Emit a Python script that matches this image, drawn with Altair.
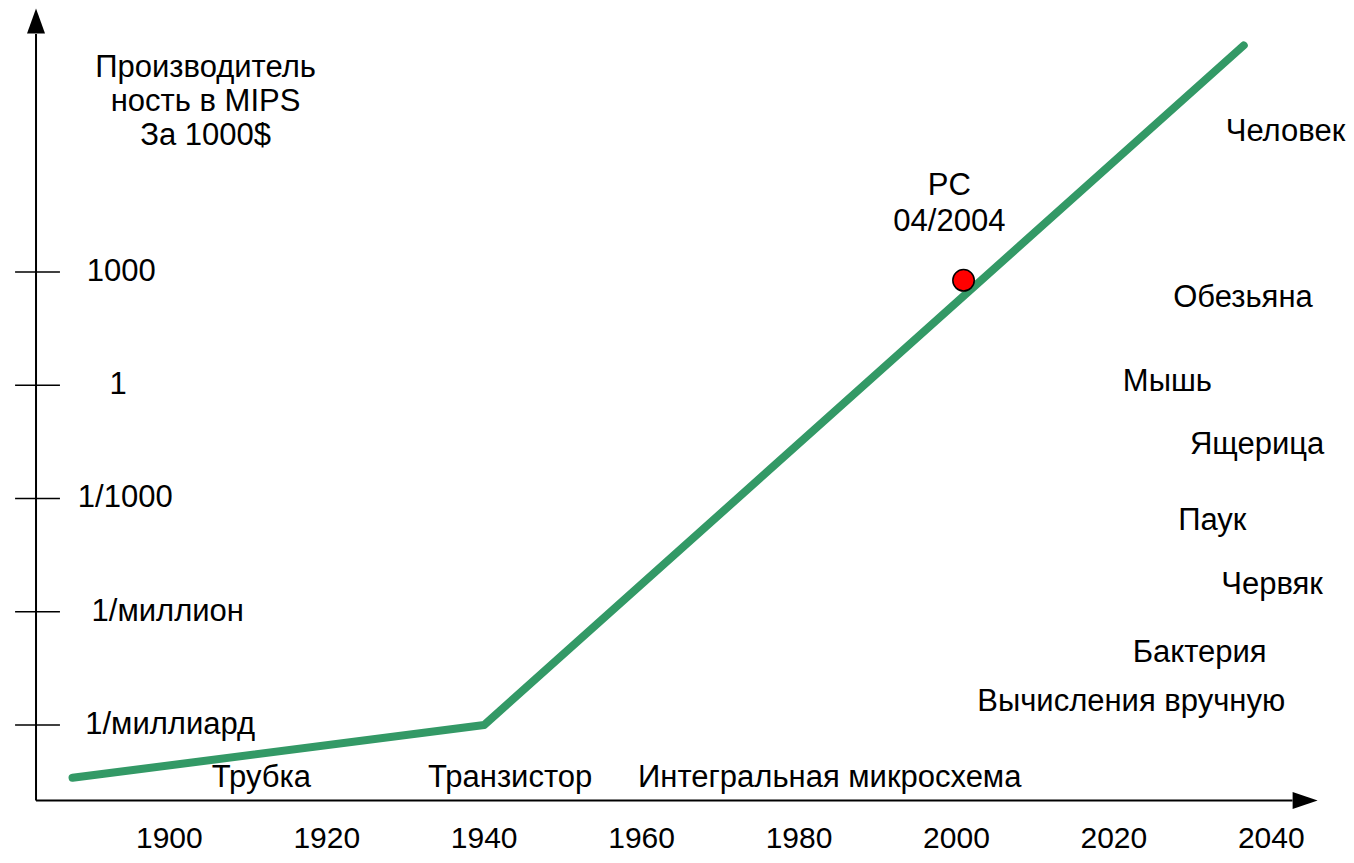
import altair as alt
import pandas as pd

# ---------------- data ----------------
# performance curve (year, MIPS per $1000)
curve_year = [1887.7, 1940.0, 2036.5]
curve_mips = [4e-11, 1e-9, 1e9]

# PC point
pc_year = [2000.9]
pc_mips = [600]
pc_label = ["PC\n04/2004"]
pc_label_year = [1999.1]
pc_label_mips = [1.9e5]

# y tick levels and labels
ytick_vals = [1e3, 1, 1e-3, 1e-6, 1e-9]
ytick_text = ["1000", "1", "1/1000", "1/миллион", "1/миллиард"]
ytick_label_year = [1893.9, 1893.5, 1894.4, 1899.8, 1900.1]

# x tick labels
xtick_years = [1900, 1920, 1940, 1960, 1980, 2000, 2020, 2040]

# technology labels (bottom)
tech_text = ["Трубка", "Транзистор", "Интегральная микросхема"]
tech_year = [1911.7, 1943.3, 1983.9]
tech_mips = [4e-11, 4e-11, 4e-11]

# organisms (right)
org_text = ["Человек", "Обезьяна", "Мышь", "Ящерица", "Паук", "Червяк",
            "Бактерия", "Вычисления вручную"]
org_year = [2041.8, 2036.4, 2026.8, 2038.2, 2032.5, 2040.1, 2030.9, 2022.2]
org_mips = [5e6, 200, 1.2, 0.026, 2.5e-4, 5e-6, 8e-8, 4e-9]

# y title
ytitle_text = ["Производитель\nность в MIPS\nЗа 1000$"]
ytitle_year = [1904.6]
ytitle_mips = [2.5e8]

# axes geometry (data space)
axis_year = 1883.06
axis_mips = 1e-11
yaxis_top_mips = 2e9
xaxis_end_year = 2042.7
arrow_up_mips = 4.4e9
arrow_right_year = 2044.3
tick_from_year, tick_to_year = 1880.4, 1886.1

# ---------------- scales ----------------
W, H = 1338, 846
PX_PER_DEC = 37.757
L_TOP = 9.99
L_BOT = L_TOP - H / PX_PER_DEC
xscale = alt.Scale(domain=[1879.5, 1879.5 + W / 7.871], nice=False, zero=False)
yscale = alt.Scale(type="log", domain=[10 ** L_BOT, 10 ** L_TOP], nice=False)
year_label_mips = 10 ** L_BOT

FONT = "Liberation Sans, Arial, sans-serif"
NARROW = "Liberation Sans Narrow, Arial Narrow, Liberation Sans, Arial, sans-serif"
FS = 31
FS_N = 30

def X(f):
    return alt.X(f, type="quantitative", scale=xscale, axis=None)

def Y(f):
    return alt.Y(f, type="quantitative", scale=yscale, axis=None)

# axes lines
yaxis_df = pd.DataFrame({"x": [axis_year], "y": [axis_mips], "y2": [yaxis_top_mips]})
yaxis = alt.Chart(yaxis_df).mark_rule(color="black", strokeWidth=2).encode(
    x=X("x"), y=Y("y"), y2="y2")
xaxis_df = pd.DataFrame({"x": [axis_year], "x2": [xaxis_end_year], "y": [axis_mips]})
xaxis = alt.Chart(xaxis_df).mark_rule(color="black", strokeWidth=2).encode(
    x=X("x"), x2="x2", y=Y("y"))

up_df = pd.DataFrame({"x": [axis_year], "y": [arrow_up_mips]})
arrow_up = alt.Chart(up_df).mark_point(
    shape="M0,-1L0.72,1L-0.72,1Z", filled=True, color="black", size=625, opacity=1
).encode(x=X("x"), y=Y("y"))
right_df = pd.DataFrame({"x": [arrow_right_year], "y": [axis_mips]})
arrow_right = alt.Chart(right_df).mark_point(
    shape="M1,0L-1,0.68L-1,-0.68Z", filled=True, color="black", size=625, opacity=1
).encode(x=X("x"), y=Y("y"))

ticks_df = pd.DataFrame({"x": tick_from_year, "x2": tick_to_year, "y": ytick_vals})
ticks = alt.Chart(ticks_df).mark_rule(color="black", strokeWidth=1.5).encode(
    x=X("x"), x2="x2", y=Y("y"))

ylab_df = pd.DataFrame({"x": ytick_label_year, "y": ytick_vals, "t": ytick_text})
ylabels = alt.Chart(ylab_df).mark_text(
    font=FONT, fontSize=FS, align="center", baseline="middle", color="black"
).encode(x=X("x"), y=Y("y"), text="t:N")

xlab_df = pd.DataFrame({"x": xtick_years, "y": [year_label_mips] * len(xtick_years),
                        "t": [str(v) for v in xtick_years]})
xlabels = alt.Chart(xlab_df).mark_text(
    font=NARROW, fontSize=FS_N, align="center", baseline="bottom", color="black"
).encode(x=X("x"), y=Y("y"), text="t:N")

# curve
curve_df = pd.DataFrame({"x": curve_year, "y": curve_mips, "o": range(len(curve_year))})
curve = alt.Chart(curve_df).mark_line(
    color="#339966", strokeWidth=8, strokeCap="round", strokeJoin="round"
).encode(x=X("x"), y=Y("y"), order="o:Q")

pc_df = pd.DataFrame({"x": pc_year, "y": pc_mips})
pc = alt.Chart(pc_df).mark_point(
    shape="circle", filled=True, fill="#ff0000", stroke="black", strokeWidth=1.5,
    size=460, opacity=1
).encode(x=X("x"), y=Y("y"))

pcl_df = pd.DataFrame({"x": pc_label_year, "y": pc_label_mips, "t": pc_label})
pc_text = alt.Chart(pcl_df).mark_text(
    font=FONT, fontSize=FS, align="center", baseline="middle", lineBreak="\n",
    lineHeight=36, color="black"
).encode(x=X("x"), y=Y("y"), text="t:N")

tech_df = pd.DataFrame({"x": tech_year, "y": tech_mips, "t": tech_text})
tech = alt.Chart(tech_df).mark_text(
    font=NARROW, fontSize=FS, align="center", baseline="middle", color="black"
).encode(x=X("x"), y=Y("y"), text="t:N")

org_df = pd.DataFrame({"x": org_year, "y": org_mips, "t": org_text})
org = alt.Chart(org_df).mark_text(
    font=FONT, fontSize=FS, align="center", baseline="middle", color="black"
).encode(x=X("x"), y=Y("y"), text="t:N")

yt_df = pd.DataFrame({"x": ytitle_year, "y": ytitle_mips, "t": ytitle_text})
ytitle = alt.Chart(yt_df).mark_text(
    font=FONT, fontSize=FS, align="center", baseline="middle", lineBreak="\n",
    lineHeight=34, color="black"
).encode(x=X("x"), y=Y("y"), text="t:N")

chart = alt.layer(
    yaxis, xaxis, arrow_up, arrow_right, ticks, ylabels, xlabels,
    curve, pc, pc_text, tech, org, ytitle
).properties(
    width=W, height=H, padding=0, autosize=alt.AutoSizeParams(type="none")
).configure_view(stroke=None)

chart.save("out.html", embed_options={"renderer": "svg", "actions": False})
